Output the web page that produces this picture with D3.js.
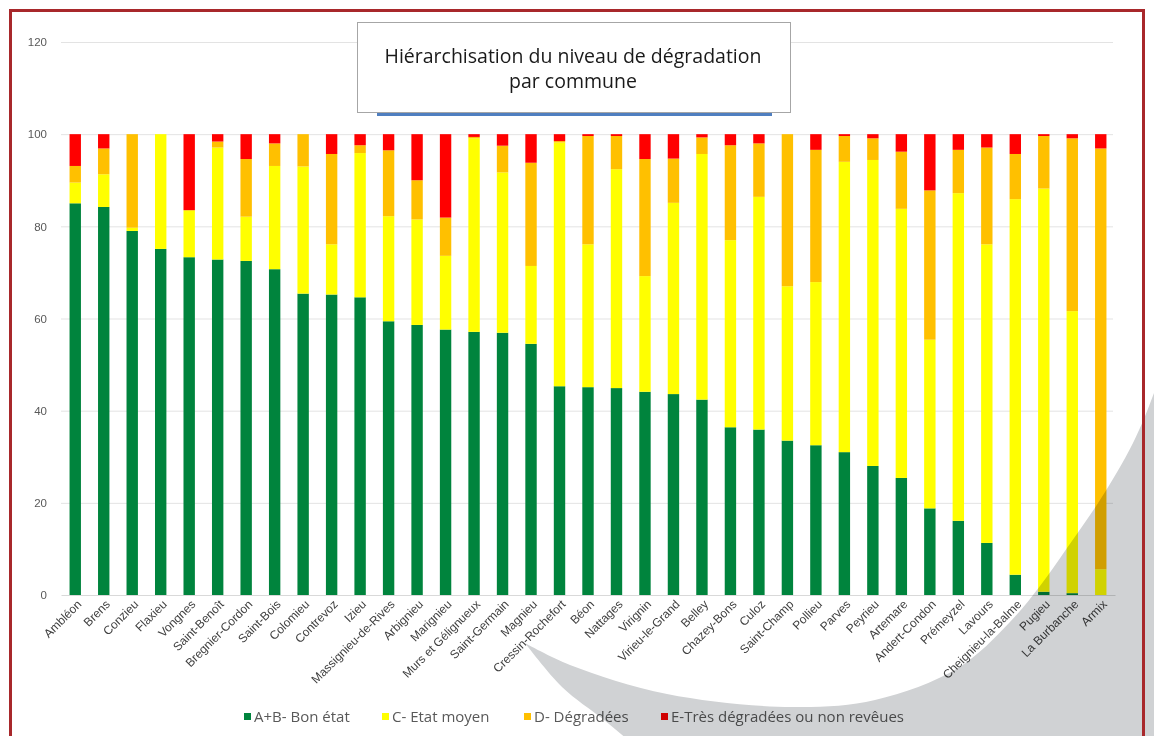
<!DOCTYPE html>
<html lang="fr">
  <head>
    <meta charset="UTF-8" />
    <title>Hiérarchisation du niveau de dégradation</title>
    <script src="https://d3js.org/d3.v7.min.js"></script>
  </head>
  <style>
    html,
    body {
      margin: 0;
      padding: 0;
      background: #fff;
    }
    svg {
      display: block;
      font-family: "Open Sans", sans-serif;
    }
  </style>
  <body>
    <script>
      // communes, triées par part "bon état"
      var communes = [
        "Ambléon", "Brens", "Conzieu", "Flaxieu", "Vongnes", "Saint-Benoît",
        "Bregnier-Cordon", "Saint-Bois", "Colomieu", "Contrevoz", "Izieu",
        "Massignieu-de-Rives", "Arbignieu", "Marignieu", "Murs et Gélignueux",
        "Saint-Germain", "Magnieu", "Cressin-Rochefort", "Béon", "Nattages",
        "Virignin", "Virieu-le-Grand", "Belley", "Chazey-Bons", "Culoz",
        "Saint-Champ", "Pollieu", "Parves", "Peyrieu", "Artemare",
        "Andert-Condon", "Prémeyzel", "Lavours", "Cheignieu-la-Balme",
        "Pugieu", "La Burbanche", "Armix"
      ];

      // % de voirie par état
      var bonEtat = [85.0, 84.2, 79.0, 75.1, 73.3, 72.8, 72.5, 70.7, 65.4, 65.2, 64.6,
        59.4, 58.6, 57.6, 57.1, 56.9, 54.5, 45.3, 45.1, 44.9, 44.1, 43.6, 42.4, 36.4,
        35.9, 33.5, 32.5, 31.0, 28.0, 25.4, 18.8, 16.1, 11.3, 4.4, 0.7, 0.4, 0];
      var etatMoyen = [4.5, 7.1, 0.7, 24.9, 10.2, 24.3, 9.6, 22.4, 27.6, 10.9, 31.3,
        22.8, 22.9, 16.0, 42.0, 34.8, 16.9, 52.9, 31.0, 47.5, 25.1, 41.5, 53.3, 40.6,
        50.5, 33.5, 35.4, 63.0, 66.4, 58.4, 36.6, 71.1, 64.8, 81.5, 87.5, 61.2, 5.6];
      var degradees = [3.6, 5.6, 20.3, 0, 0, 1.3, 12.5, 4.9, 7.0, 19.6, 1.7,
        14.3, 8.5, 8.3, 0.3, 5.8, 22.4, 0.3, 23.5, 7.2, 25.4, 9.6, 3.6, 20.6,
        11.6, 33.0, 28.7, 5.6, 4.7, 12.4, 32.4, 9.4, 21.0, 9.8, 11.4, 37.5, 91.3];
      var tresDegradees = [6.9, 3.1, 0, 0, 16.5, 1.6, 5.4, 2.0, 0, 4.3, 2.4,
        3.5, 10.0, 18.1, 0.6, 2.5, 6.2, 1.5, 0.4, 0.4, 5.4, 5.3, 0.7, 2.4,
        2.0, 0, 3.4, 0.4, 0.9, 3.8, 12.2, 3.4, 2.9, 4.3, 0.4, 0.9, 3.1];

      var yTicks = [0, 20, 40, 60, 80, 100, 120];

      var series = [
        { key: "bon", label: "A+B- Bon état", values: bonEtat, color: "#00843d" },
        { key: "moyen", label: "C- Etat moyen", values: etatMoyen, color: "#ffff00" },
        { key: "degr", label: "D- Dégradées", values: degradees, color: "#ffc000" },
        { key: "tres", label: "E-Très dégradées ou non revêues", values: tresDegradees, color: "#ff0000" }
      ];

      var table = communes.map(function (c, i) {
        var row = { commune: c };
        series.forEach(function (s) {
          row[s.key] = s.values[i];
        });
        return row;
      });

      var W = 1154, H = 736;
      var svg = d3.select("body").append("svg").attr("width", W).attr("height", H);
      svg.append("rect").attr("width", W).attr("height", H).attr("fill", "#fff");

      var x = d3.scaleBand().domain(communes).range([61, 1115]).paddingInner(0.6).paddingOuter(0.3);
      var y = d3.scaleLinear().domain([0, 120]).range([595, 42]);

      // grille
      svg.append("g")
        .selectAll("line")
        .data(yTicks.slice(1))
        .enter()
        .append("line")
        .attr("x1", 61)
        .attr("x2", 1113)
        .attr("y1", function (d) { return y(d) + 0.5; })
        .attr("y2", function (d) { return y(d) + 0.5; })
        .attr("stroke", "#e3e3e3");

      // barres empilées
      var stack = d3.stack().keys(series.map(function (s) { return s.key; }));
      var layers = stack(table);

      svg.append("g")
        .selectAll("g")
        .data(layers)
        .enter()
        .append("g")
        .attr("fill", function (d, i) { return series[i].color; })
        .selectAll("rect")
        .data(function (d) { return d; })
        .enter()
        .append("rect")
        .attr("x", function (d) { return x(d.data.commune); })
        .attr("width", x.bandwidth())
        .attr("y", function (d) { return y(d[1]); })
        .attr("height", function (d) { return y(d[0]) - y(d[1]); });

      // axe Y
      var yAxis = svg.append("g")
        .attr("transform", "translate(61,0)")
        .call(d3.axisLeft(y).tickValues(yTicks).tickSize(0).tickPadding(14));
      yAxis.select(".domain").remove();
      yAxis.selectAll("text").attr("fill", "#595959").attr("font-size", 11.5);

      // axe X
      var xAxis = svg.append("g")
        .attr("transform", "translate(0,595)")
        .call(d3.axisBottom(x).tickSize(0));
      xAxis.select(".domain").attr("stroke", "#d9d9d9");
      xAxis.selectAll("text")
        .attr("fill", "#404040")
        .attr("font-size", 12)
        .attr("text-anchor", "end")
        .attr("x", 0)
        .attr("y", 0)
        .attr("dy", "0.35em")
        .attr("transform", "translate(4,7) rotate(-45)");

      // légende
      var legendX = [244, 382, 524, 661];
      var legend = svg.append("g").selectAll("g")
        .data(series)
        .enter()
        .append("g")
        .attr("transform", function (d, i) { return "translate(" + legendX[i] + ",717)"; });
      legend.append("rect")
        .attr("x", 0).attr("y", -4).attr("width", 7).attr("height", 7)
        .attr("fill", function (d) { return d.color; });
      legend.append("text")
        .attr("x", 10).attr("dy", "0.35em")
        .attr("font-size", 15)
        .attr("fill", "#595959")
        .text(function (d) { return d.label; });

      // titre
      svg.append("rect").attr("x", 377).attr("y", 111).attr("width", 395).attr("height", 5).attr("fill", "#4f7fc0");
      svg.append("rect")
        .attr("x", 357.5).attr("y", 22.5).attr("width", 433).attr("height", 90)
        .attr("fill", "#fff").attr("stroke", "#a6a6a6");
      var title = svg.append("text")
        .attr("text-anchor", "middle")
        .attr("font-size", 19.5)
        .attr("fill", "#1a1a1a");
      title.append("tspan").attr("x", 573).attr("y", 63).text("Hiérarchisation du niveau de dégradation");
      title.append("tspan").attr("x", 573).attr("y", 88).text("par commune");

      // décor gris de la diapositive (arc en bas à droite)
      var arcHaut = [[525, 643], [570, 665], [667, 694], [792, 707], [875, 700], [958, 668],
        [1010, 622], [1040, 586], [1067, 548], [1100, 500], [1133, 443], [1154, 393], [1175, 330]];
      var arcBas = [[525, 643], [562, 687], [604, 720], [640, 750]];
      var courbe = d3.line().curve(d3.curveCatmullRom);
      var dArc = courbe(arcBas) + "L1175,750L1175,330" +
        courbe(arcHaut.slice().reverse()).replace(/^M/, "L") + "Z";
      svg.append("path")
        .attr("d", dArc)
        .attr("fill", "#d0d2d4")
        .style("mix-blend-mode", "multiply");

      // cadre
      svg.append("rect")
        .attr("x", 10.5).attr("y", 10.5).attr("width", 1133).attr("height", 760)
        .attr("fill", "none").attr("stroke", "#a8282b").attr("stroke-width", 3);
    </script>
  </body>
</html>
